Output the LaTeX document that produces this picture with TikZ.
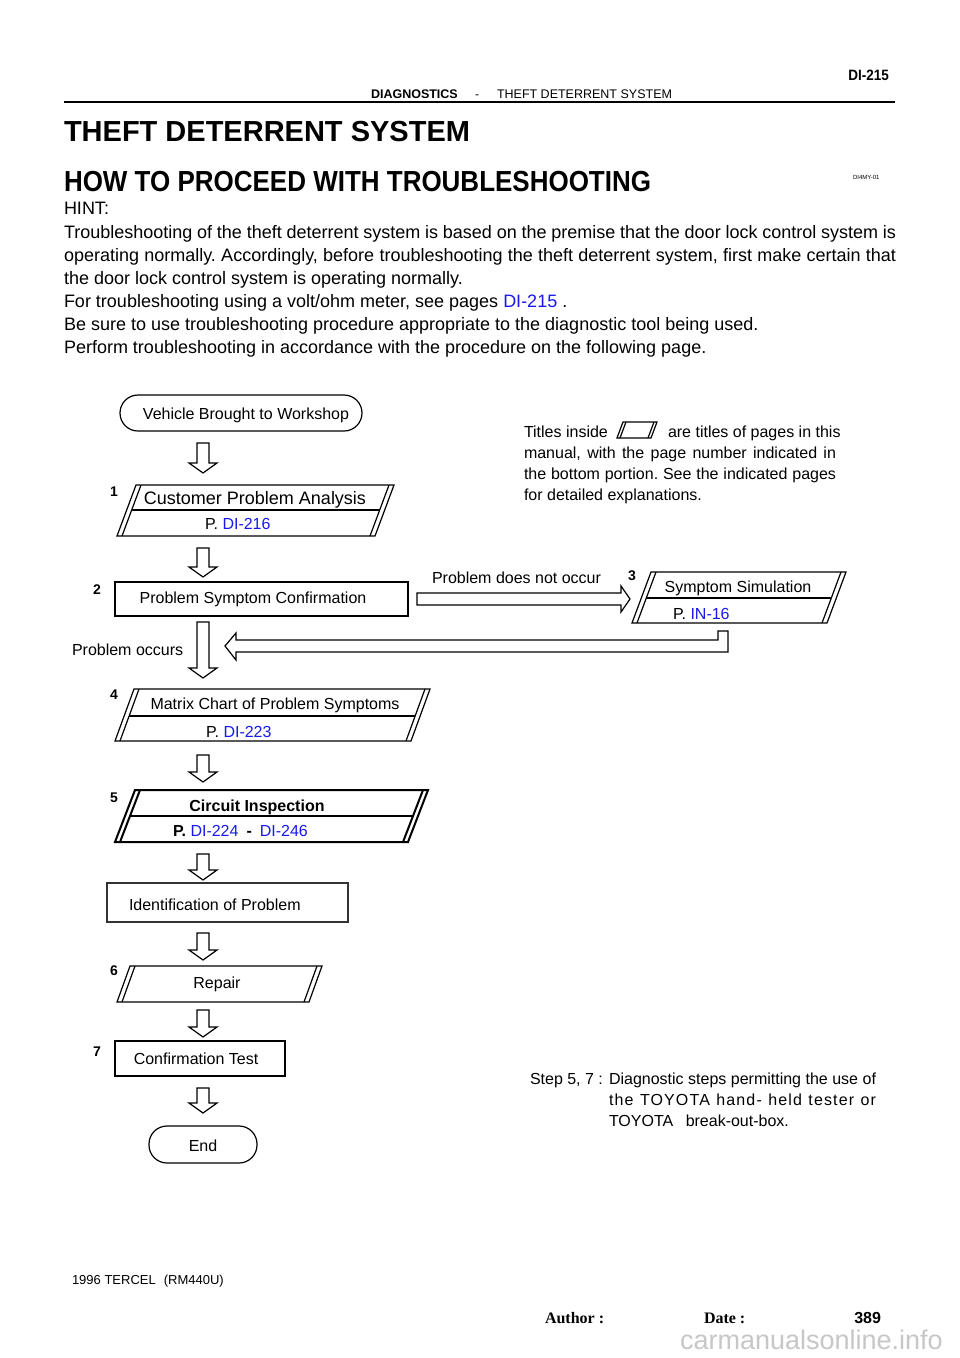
\documentclass[tikz,border=0pt]{standalone}
\usepackage{fontspec}
\setmainfont{Liberation Sans}
\newfontfamily\timesf{Liberation Serif}
\definecolor{lnk}{RGB}{25,25,235}
\newcommand\fs[1]{\fontsize{#1}{#1}\selectfont}
\newcommand\lk[1]{\textcolor{lnk}{#1}}
% parallelogram with double sides: xTL, ytop, width, height, slant, gap
\newcommand\pgbox[6]{%
  \draw[boxline] ({#1},{#2}) -- ({#1+#3},{#2}) -- ({#1+#3-#5},{#2+#4}) -- ({#1-#5},{#2+#4}) -- cycle;
  \draw[boxline] ({#1+#6},{#2}) -- ({#1+#6-#5},{#2+#4});
  \draw[boxline] ({#1+#3-#6},{#2}) -- ({#1+#3-#6-#5},{#2+#4});}
% middle line: same args + ymid
\newcommand\pgmid[7]{%
  \draw[boxline] ({#1+#6-#5*(#7-#2)/#4},{#7}) -- ({#1+#3-#6-#5*(#7-#2)/#4},{#7});}
% hollow down arrow: x, ytop, ytip
\newcommand\darr[3]{%
  \draw[harrow] ({#1-6},{#2}) -- ({#1-6},{#3-10}) -- ({#1-14},{#3-10}) -- ({#1},{#3}) -- ({#1+14},{#3-10}) -- ({#1+6},{#3-10}) -- ({#1+6},{#2}) -- cycle;}
\frenchspacing
\begin{document}
\begin{tikzpicture}[x=1pt,y=-1pt,
  every node/.style={inner sep=0pt,outer sep=0pt},
  boxline/.style={line width=1.2pt,line join=miter},
  harrow/.style={line width=1.2pt,line join=miter,fill=white},
  txt/.style={anchor=base west,font=\fs{16}},
  ctxt/.style={anchor=base,font=\fs{16}},
  num/.style={anchor=base,font=\fs{14}\bfseries},
  body/.style={anchor=base west,font=\fs{18}}]
\useasboundingbox (0,0) rectangle (960,1358);
\fill[white] (0,0) rectangle (960,1358);

% ---------- header ----------
\node[anchor=base east,font=\fs{15}\bfseries] (pgno) at (889,80) {\scalebox{0.9}[1]{DI-215}};
\node[anchor=base west,font=\fs{12.5}\bfseries] (hdra) at (371,98) {DIAGNOSTICS};
\node[anchor=base,font=\fs{12}] (hdrb) at (477,98) {-};
\node[anchor=base west,font=\fs{12.5}] (hdrc) at (497,98) {THEFT DETERRENT SYSTEM};
\draw[line width=2pt] (64,101.5) -- (895,101.5);

\node[anchor=base west,font=\fs{29}\bfseries] (title) at (64,141) {THEFT DETERRENT SYSTEM};
\node[anchor=base west,font=\fs{29}\bfseries] (sub) at (64,191) {\scalebox{0.896}[1]{HOW TO PROCEED WITH TROUBLESHOOTING}};
\node[anchor=base west,font=\fs{6}] (code) at (853,179) {DI4MY-01};

\node[body] (hint) at (64,214) {HINT:};
\node[body] (l1) at (64,238) {\makebox[832pt][s]{Troubleshooting of the theft deterrent system is based on the premise that the door lock control system is}};
\node[body] (l2) at (64,261) {\makebox[832pt][s]{operating normally. Accordingly, before troubleshooting the theft deterrent system, first make certain that}};
\node[body] (l3) at (64,284) {the door lock control system is operating normally.};
\node[body] (l4) at (64,307) {For troubleshooting using a volt/ohm meter, see pages \lk{DI-215} .};
\node[body] (l5) at (64,330) {Be sure to use troubleshooting procedure appropriate to the diagnostic tool being used.};
\node[body] (l6) at (64,353) {Perform troubleshooting in accordance with the procedure on the following page.};

% ---------- flowchart ----------
\node[draw,line width=1.2pt,rounded corners=18pt,minimum width=242pt,minimum height=36pt] (start) at (241,413) {};
\node[ctxt] (starttxt) at (246,419) {Vehicle Brought to Workshop};
\darr{203}{443}{473}

% box 1
\pgbox{136}{485}{258}{51}{19}{5}
\pgmid{136}{485}{258}{51}{19}{5}{510}
\node[ctxt,font=\fs{18}] (b1t) at (255,504) {Customer Problem Analysis};
\node[txt] (b1p) at (205,529) {P. \lk{DI-216}};
\node[num] (n1) at (114,496) {1};
\darr{203}{548}{577}

% box 2
\node[draw,line width=1.4pt,minimum width=293pt,minimum height=34pt] (b2) at (261.5,599) {};
\node[ctxt] (b2t) at (253,603) {Problem Symptom Confirmation};
\node[num] (n2) at (97,594) {2};

% right arrow
\draw[harrow] (417,593) -- (621,593) -- (621,586) -- (630,599) -- (621,612) -- (621,605) -- (417,605) -- cycle;
\node[txt] (pdno) at (432,583) {Problem does not occur};

% box 3
\pgbox{651}{572}{195}{51}{19}{5}
\pgmid{651}{572}{195}{51}{19}{5}{598}
\node[ctxt] (b3t) at (738,592) {Symptom Simulation};
\node[txt] (b3p) at (673,619) {P. \lk{IN-16}};
\node[num] (n3) at (632,580) {3};

% return arrow
\draw[harrow] (728,631) -- (728,652) -- (236,652) -- (236,660) -- (225,646) -- (236,633) -- (236,640) -- (718,640) -- (718,631) -- cycle;

% problem occurs arrow
\darr{203}{622}{678}
\node[txt] (po) at (72,655) {Problem occurs};

% box 4
\pgbox{134}{689}{296}{52}{19}{5}
\pgmid{134}{689}{296}{52}{19}{5}{716}
\node[ctxt] (b4t) at (275,709) {Matrix Chart of Problem Symptoms};
\node[txt] (b4p) at (206,737) {P. \lk{DI-223}};
\node[num] (n4) at (114,699) {4};
\darr{203}{755}{782}

% box 5 (bold)
\begin{scope}[boxline/.style={line width=2pt,line join=miter}]
\pgbox{135}{790}{293}{52}{20}{5}
\pgmid{135}{790}{293}{52}{20}{5}{816}
\end{scope}
\node[ctxt,font=\fs{16}\bfseries] (b5t) at (257,811) {Circuit Inspection};
\node[txt] (b5p) at (173,836) {\textbf{P.} \lk{DI-224}\hspace{8pt}\textbf{-}\hspace{8pt}\lk{DI-246}};
\node[num] (n5) at (114,802) {5};
\darr{203}{854}{880}

% identification
\node[draw,line width=1.1pt,draw=black!80,minimum width=241pt,minimum height=39pt] (idp) at (227.5,902.5) {};
\node[txt] (idt) at (129,910) {Identification of Problem};
\darr{203}{933}{960}

% box 6
\pgbox{130}{966}{192}{36}{13}{5}
\node[ctxt] (b6t) at (217,988) {Repair};
\node[num] (n6) at (114,975) {6};
\darr{203}{1010}{1037}

% box 7
\node[draw,line width=2.2pt,minimum width=170pt,minimum height=35pt] (b7) at (200,1058.5) {};
\node[ctxt] (b7t) at (196,1064) {Confirmation Test};
\node[num] (n7) at (97,1056) {7};
\darr{203}{1088}{1113}

% end
\node[draw,line width=1.2pt,rounded corners=18pt,minimum width=108pt,minimum height=37pt] (endn) at (203,1144.5) {};
\node[ctxt] (endt) at (203,1151) {End};

% ---------- legend ----------
\node[txt] (lg1a) at (524,437) {Titles inside};
\pgbox{623}{422}{34}{16}{6}{3}
\node[txt] (lg1b) at (668,437) {are titles of pages in this};
\node[txt] (lg2) at (524,458) {\makebox[312pt][s]{manual, with the page number indicated in}};
\node[txt] (lg3) at (524,479) {\makebox[312pt][s]{the bottom portion. See the indicated pages}};
\node[txt] (lg4) at (524,500) {for detailed explanations.};

% ---------- step note ----------
\node[txt] (st0) at (530,1084) {Step 5, 7 :};
\node[txt] (st1) at (609,1084) {\makebox[267pt][s]{Diagnostic steps permitting the use of}};
\node[txt] (st2) at (609,1105) {\addfontfeature{LetterSpace=7}\makebox[267pt][s]{the TOYOTA hand- held tester or}};
\node[txt] (st3) at (609,1126) {TOYOTA\hspace{8pt} break-out-box.};

% ---------- footer ----------
\node[anchor=base west,font=\fs{13}] (foot) at (72,1284) {1996 TERCEL\hspace{8pt}(RM440U)};
\node[anchor=base west,font=\fs{16}\timesf\bfseries] (auth) at (545,1323) {Author :};
\node[anchor=base west,font=\fs{16}\timesf\bfseries] (date) at (704,1323) {Date :};
\node[anchor=base east,font=\fs{16}\bfseries] (pnum) at (881,1323) {389};
\node[anchor=base west,font=\fs{27},text=black!22] (wm) at (680,1349) {carmanualsonline.info};
\end{tikzpicture}
\end{document}
